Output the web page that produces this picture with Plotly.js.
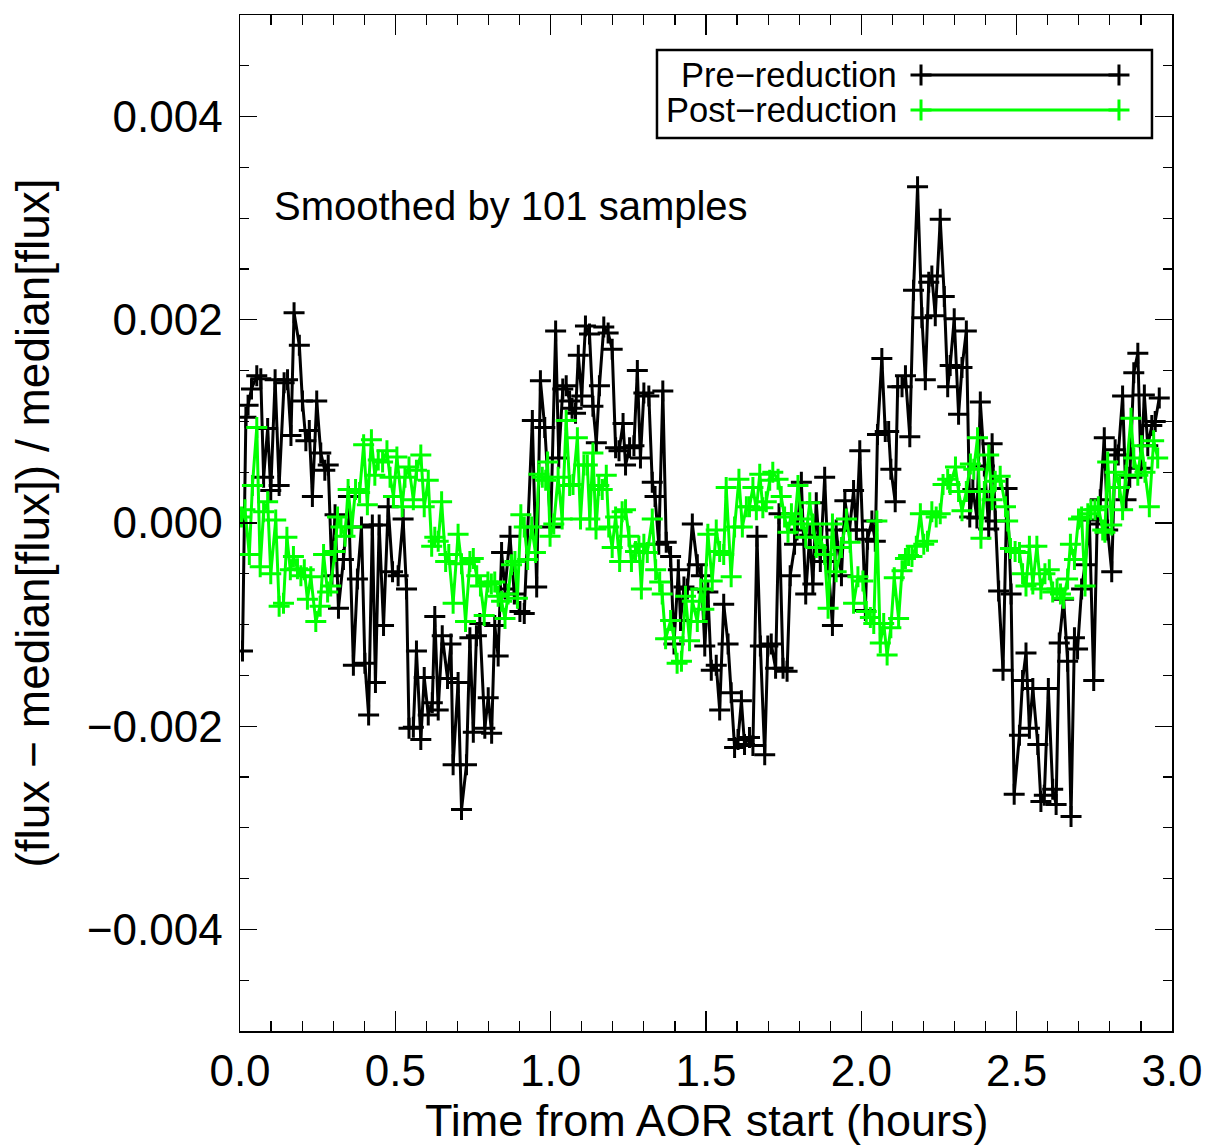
<!DOCTYPE html>
<html>
<head>
<meta charset="utf-8">
<script src="https://cdn.plot.ly/plotly-3.0.1.min.js"></script>
<style>html,body{margin:0;padding:0;background:#fff;}#chart{width:1208px;height:1145px;}</style>
</head>
<body>
<div id="chart"></div>
<script>
// Values are in units of 1e-3 (fractional flux deviation)
var UNIT = 1e-3;

var preTime = [0.008,0.019,0.026,0.037,0.054,0.067,0.076,0.089,0.099,0.113,0.126,0.142,0.153,0.164,0.174,0.191,0.201,0.212,0.223,0.233,0.247,0.260,0.273,0.284,0.296,0.306,0.317,0.333,0.349,0.365,0.378,0.391,0.402,0.414,0.426,0.436,0.448,0.462,0.477,0.491,
0.509,0.525,0.536,0.544,0.558,0.568,0.582,0.593,0.606,0.619,0.627,0.638,0.651,0.668,0.679,0.686,0.702,0.713,0.729,0.740,0.751,0.761,0.772,0.788,0.799,0.810,0.820,0.831,0.842,0.853,0.869,0.883,0.901,0.915,0.941,0.955,0.967,0.981,
1.000,1.016,1.026,1.039,1.050,1.061,1.069,1.080,1.089,1.100,1.112,1.125,1.136,1.147,1.157,1.171,1.185,1.198,1.209,1.220,1.233,1.241,1.254,1.268,1.279,1.289,1.300,1.316,1.327,1.336,1.348,1.361,1.372,1.386,1.397,1.411,1.418,1.429,1.440,1.456,1.472,
1.485,1.496,1.506,1.517,1.533,1.544,1.557,1.571,1.581,1.592,1.603,1.614,1.624,1.640,1.651,1.664,1.675,1.689,1.699,1.710,1.724,1.735,1.748,1.761,1.771,1.785,1.793,1.807,1.821,1.834,1.844,1.855,1.868,1.882,1.893,1.907,1.919,1.936,1.947,1.962,1.975,1.984,1.995,
2.013,2.020,2.034,2.045,2.052,2.066,2.077,2.088,2.095,2.109,2.117,2.131,2.142,2.156,2.168,2.181,2.195,2.206,2.217,2.227,2.238,2.254,2.267,2.278,2.286,2.299,2.313,2.324,2.338,2.349,2.359,2.372,2.383,2.396,2.410,2.421,2.431,2.442,2.456,2.469,2.482,
2.492,2.509,2.519,2.530,2.541,2.552,2.568,2.578,2.589,2.602,2.616,2.627,2.637,2.651,2.664,2.675,2.686,2.696,2.709,2.720,2.734,2.748,2.759,2.769,2.782,2.793,2.806,2.817,2.827,2.841,2.852,2.864,2.877,2.890,2.900,2.911,2.922,2.935,2.946,2.959];

var preFlux = [-1.26,1.04,1.16,1.32,1.45,1.42,0.45,0.93,0.32,1.41,0.37,1.38,1.41,0.86,2.07,1.75,1.20,0.81,0.91,0.26,1.20,0.69,0.52,0.57,-0.52,0.08,-0.84,-0.36,0.26,-1.40,-0.55,-0.04,-1.38,-1.89,-0.02,-1.57,-0.02,-1.01,0.16,-0.48,
-0.52,0.04,-0.65,-2.02,-2.01,-1.26,-2.13,-1.52,-1.89,-1.77,-0.92,-1.84,-1.11,-1.53,-1.19,-2.38,-1.57,-2.82,-2.38,-1.13,-2.06,-1.11,-0.99,-2.02,-1.72,-2.07,-1.01,-1.31,-0.29,-0.65,-0.13,-0.70,-0.87,-0.89,1.01,-0.63,1.40,0.94,
-0.04,1.89,0.64,1.32,1.35,1.20,1.13,1.08,1.65,1.25,1.94,1.86,1.15,0.79,1.35,1.93,1.87,1.71,0.74,0.71,0.98,0.57,0.74,0.76,1.50,0.64,1.28,1.25,0.40,0.26,-0.21,1.30,-0.19,-0.33,-1.19,-0.46,-0.96,-0.63,-0.65,-0.01,-0.41,
-0.52,-1.21,-0.68,-1.45,-1.40,-1.84,-0.80,-1.19,-1.67,-2.21,-2.13,-1.75,-2.18,-2.11,-2.19,-0.13,-1.21,-2.28,-1.21,-1.19,-1.43,0.09,-1.43,-1.46,-0.52,-0.21,-0.07,0.40,-0.70,-0.12,-0.60,0.20,-0.38,0.45,-0.38,-1.01,-0.07,-0.52,0.22,-0.07,0.32,-0.07,0.71,
-0.86,-0.16,0.02,-0.18,0.87,1.62,0.90,0.90,0.53,0.21,1.34,1.34,1.45,0.85,2.29,3.31,2.02,1.41,2.37,2.43,2.04,2.99,2.23,1.34,1.55,2.01,1.07,1.53,1.89,0.06,0.33,0.05,1.19,0.56,-0.06,0.78,0.02,-0.67,-1.45,0.34,-0.70,
-2.67,-2.09,-1.55,-1.28,-2.02,-1.63,-2.18,-2.74,-2.68,-1.63,-2.62,-2.77,-1.18,-0.75,-1.36,-2.89,-1.13,-1.24,-0.65,-0.41,0.03,-1.55,-0.01,0.23,0.84,-0.07,-0.48,0.72,0.67,1.25,0.23,0.45,1.48,1.67,0.54,1.26,0.76,0.96,1.00,1.23];

var postTime = [0.005,0.016,0.030,0.040,0.054,0.065,0.076,0.089,0.099,0.115,0.126,0.140,0.151,0.162,0.172,0.185,0.196,0.207,0.217,0.228,0.244,0.258,0.269,0.282,0.292,0.306,0.314,0.325,0.338,0.348,0.360,0.372,0.385,0.398,0.410,0.423,0.434,0.445,0.459,0.473,0.483,0.494,0.505,
0.522,0.531,0.544,0.558,0.568,0.582,0.593,0.606,0.617,0.627,0.638,0.649,0.662,0.672,0.686,0.702,0.713,0.726,0.740,0.751,0.762,0.774,0.786,0.798,0.809,0.820,0.831,0.842,0.853,0.863,0.874,0.885,0.893,0.904,0.915,0.926,0.939,0.951,0.962,0.973,0.984,0.990,0.998,
1.010,1.024,1.037,1.050,1.061,1.072,1.086,1.096,1.107,1.118,1.126,1.136,1.146,1.155,1.166,1.179,1.187,1.198,1.209,1.222,1.230,1.241,1.252,1.260,1.273,1.284,1.292,1.300,1.311,1.327,1.338,1.351,1.359,1.370,1.386,1.397,1.407,1.421,1.434,1.447,1.456,1.472,1.483,1.493,
1.506,1.520,1.533,1.544,1.557,1.565,1.581,1.592,1.606,1.617,1.630,1.640,1.651,1.662,1.673,1.683,1.694,1.705,1.715,1.732,1.742,1.753,1.764,1.775,1.785,1.796,1.807,1.821,1.834,1.844,1.855,1.868,1.882,1.893,1.907,1.919,1.936,1.952,1.964,1.975,1.989,
2.005,2.016,2.029,2.040,2.050,2.061,2.072,2.083,2.095,2.106,2.120,2.131,2.142,2.152,2.163,2.177,2.190,2.201,2.213,2.227,2.241,2.254,2.263,2.278,2.286,2.303,2.313,2.324,2.338,2.351,2.362,2.374,2.385,2.396,2.410,2.421,2.431,2.447,2.464,2.471,2.480,
2.495,2.509,2.519,2.530,2.541,2.552,2.565,2.578,2.591,2.605,2.616,2.630,2.641,2.651,2.664,2.673,2.686,2.699,2.709,2.720,2.729,2.739,2.752,2.763,2.777,2.784,2.793,2.806,2.817,2.831,2.841,2.852,2.868,2.877,2.890,2.902,2.913,2.927,2.941,2.954];

var postFlux = [0.06,0.13,-0.31,0.37,0.94,-0.43,0.11,0.21,-0.50,0.03,-0.82,-0.79,-0.14,-0.46,-0.33,-0.45,-0.52,-0.46,-0.75,-0.53,-0.97,-0.82,-0.31,-0.68,-0.62,-0.28,0.06,-0.04,-0.13,0.33,-0.04,0.33,0.30,0.77,0.18,0.82,0.47,0.62,0.60,0.71,0.45,0.26,0.65,
0.16,0.45,0.55,0.23,0.52,0.67,0.16,0.42,-0.23,-0.14,-0.18,0.21,-0.38,-0.31,-0.79,-0.11,-0.40,-0.97,-0.38,-0.35,-0.52,-0.62,-0.91,-0.58,-0.60,-0.58,-0.72,-0.77,-0.94,-0.70,-0.41,-0.38,-0.74,0.08,-0.04,-0.36,-0.04,-0.29,0.48,0.45,0.42,0.60,-0.13,
-0.01,0.45,0.04,1.01,0.37,0.38,0.84,0.04,0.57,0.57,0.04,0.69,-0.06,0.37,0.33,0.47,-0.04,-0.24,0.06,-0.38,0.11,0.13,-0.13,-0.38,-0.28,-0.23,-0.65,-0.21,-0.29,0.04,-0.46,-0.58,-0.70,-1.14,-0.96,-1.13,-1.38,-1.36,-0.72,-1.16,-0.77,-0.97,-0.65,-0.85,
-0.11,-0.57,-0.07,-0.28,-0.31,0.35,-0.53,-0.04,0.43,-0.04,0.16,0.16,0.35,0.13,0.48,0.15,0.21,0.42,0.50,0.43,0.26,0.06,-0.09,0.09,-0.01,0.37,0.04,-0.14,0.20,-0.01,-0.24,-0.14,-0.31,-0.84,-0.01,-0.48,-0.24,0.04,-0.19,-0.79,-0.53,
-0.57,-0.87,-0.93,-0.99,0.02,-1.18,-0.99,-1.30,-1.03,-0.54,-0.94,-0.47,-0.35,-0.32,-0.33,-0.23,0.09,-0.21,-0.18,0.11,0.06,0.09,0.38,0.43,0.38,0.55,0.31,0.12,0.31,0.58,0.53,0.84,-0.15,0.31,0.67,0.23,0.41,0.46,0.16,0.02,-0.25,
-0.28,-0.29,-0.50,-0.62,-0.23,-0.60,-0.23,-0.65,-0.50,-0.46,-0.68,-0.65,-0.70,-0.74,-0.55,-0.21,-0.36,0.04,0.06,-0.62,0.09,0.13,0.13,0.16,-0.07,-0.09,0.60,-0.02,0.50,0.35,0.13,0.47,1.03,0.64,0.47,0.76,0.50,0.16,0.81,0.64];

var seriesNames = ['Pre\u2212reduction', 'Post\u2212reduction'];
var seriesColors = ['#000000', '#00ff00'];
var xTitle = 'Time from AOR start (hours)';
var yTitle = '(flux \u2212 median[flux]) / median[flux]';
var noteText = 'Smoothed by 101 samples';

var FONT = 'Liberation Sans, Arial, Helvetica, sans-serif';

function scaled(a){ return a.map(function(v){ return v*UNIT; }); }

function seriesTrace(t, f, i){
  return {
    x: t, y: scaled(f), type: 'scatter', mode: 'lines+markers', name: seriesNames[i],
    line: {color: seriesColors[i], width: 3},
    marker: {symbol: 'cross-thin', size: 15, line: {color: seriesColors[i], width: 3}},
    showlegend: false, hoverinfo: 'skip'
  };
}

// legend samples drawn on an overlay axis spanning [0,1]
var legX = [0.7307, 0.9431];
var legY = [0.9409, 0.9065];
function legendTrace(i){
  return {
    x: legX, y: [legY[i], legY[i]], xaxis: 'x2', yaxis: 'y2', type: 'scatter', mode: 'lines+markers',
    line: {color: seriesColors[i], width: 3},
    marker: {symbol: 'cross-thin', size: 15, line: {color: seriesColors[i], width: 3}},
    showlegend: false, hoverinfo: 'skip', cliponaxis: false
  };
}

var data = [seriesTrace(preTime, preFlux, 0), seriesTrace(postTime, postFlux, 1), legendTrace(0), legendTrace(1)];

var axisCommon = {
  showgrid: false, zeroline: false, showline: true, linecolor: '#000', linewidth: 1.5,
  mirror: 'allticks', ticks: 'inside', tickcolor: '#000', tickwidth: 1.2,
  tickfont: {family: FONT, size: 44, color: '#000'}
};

var layout = {
  width: 1208, height: 1145,
  margin: {l: 240, r: 36, t: 15, b: 114},
  paper_bgcolor: '#fff', plot_bgcolor: '#fff',
  font: {family: FONT, color: '#000'},
  showlegend: false,
  xaxis: Object.assign({}, axisCommon, {
    range: [0, 3], dtick: 0.5, tick0: 0, tickformat: '.1f', ticklen: 20, ticklabelstandoff: 1,
    minor: {dtick: 0.1, ticklen: 10, ticks: 'inside', tickcolor: '#000', tickwidth: 1.2}
  }),
  yaxis: Object.assign({}, axisCommon, {
    range: [-0.005, 0.005], dtick: 0.002, tick0: 0, tickformat: '.3f', ticklen: 17, ticklabelstandoff: 7,
    minor: {dtick: 0.0005, ticklen: 9, ticks: 'inside', tickcolor: '#000', tickwidth: 1.2},
    title: {text: yTitle, font: {family: FONT, size: 46, color: '#000'}, standoff: 23}
  }),
  xaxis2: {overlaying: 'x', range: [0, 1], visible: false, fixedrange: true},
  yaxis2: {overlaying: 'y', range: [0, 1], visible: false, fixedrange: true},
  shapes: [{
    type: 'rect', xref: 'paper', yref: 'paper', x0: 0.4474, x1: 0.9785, y0: 0.8790, y1: 0.9656,
    line: {color: '#000', width: 2.5}, fillcolor: 'rgba(0,0,0,0)'
  }],
  annotations: [
    {xref: 'paper', yref: 'paper', x: 0.5, y: -0.0885, xanchor: 'center', yanchor: 'middle', showarrow: false,
     text: xTitle, font: {family: FONT, size: 45, color: '#000'}},
    {xref: 'paper', yref: 'paper', x: 0.0343, y: 0.812, xanchor: 'left', yanchor: 'middle', showarrow: false,
     text: noteText, font: {family: FONT, size: 40, color: '#000'}},
    {xref: 'paper', yref: 'paper', x: 0.7071, y: legY[0], xanchor: 'right', yanchor: 'middle', showarrow: false,
     text: seriesNames[0], font: {family: FONT, size: 34.5, color: '#000'}},
    {xref: 'paper', yref: 'paper', x: 0.7071, y: legY[1], xanchor: 'right', yanchor: 'middle', showarrow: false,
     text: seriesNames[1], font: {family: FONT, size: 34.5, color: '#000'}}
  ]
};

Plotly.newPlot('chart', data, layout, {displayModeBar: false, staticPlot: true});
</script>
</body>
</html>
